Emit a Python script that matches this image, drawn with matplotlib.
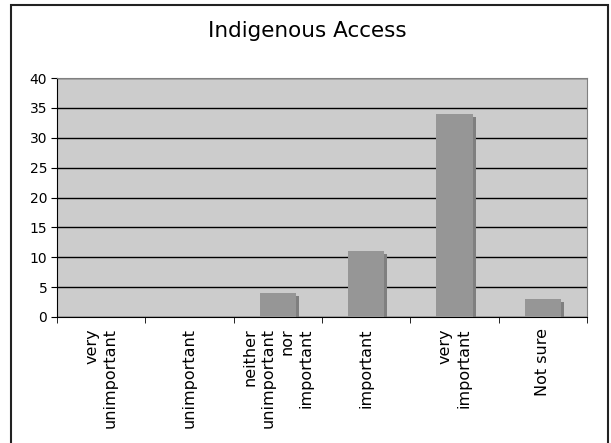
import matplotlib
matplotlib.use("Agg")
import matplotlib.pyplot as plt
from matplotlib.transforms import ScaledTranslation
from matplotlib.patches import Rectangle

plt.rcParams['font.family'] = ['DejaVu Sans']

title = "Indigenous Access"
categories = ["very\nunimportant", "unimportant", "neither\nunimportant\nnor\nimportant",
              "important", "very\nimportant", "Not sure"]
counts = [0, 0, 4, 11, 34, 3]
y_ticks = [0, 5, 10, 15, 20, 25, 30, 35, 40]

W, H = 611, 443
fig = plt.figure(figsize=(W / 100, H / 100), dpi=100)

# outer chart frame
fig.patches.append(Rectangle((11 / W, -0.01), (608 - 11) / W, 1 - 5 / H + 0.01,
                             transform=fig.transFigure, fill=False,
                             edgecolor="#222222", linewidth=1.5))

ax = fig.add_axes([57 / W, (H - 317) / H, (587 - 57) / W, (317 - 78) / H])
ax.set_facecolor("#cccccc")

x = list(range(1, len(categories) + 1))
bar_w = 0.41

# drop shadow behind each bar
shadow = ax.transData + ScaledTranslation(3 / 100, -3 / 100, fig.dpi_scale_trans)
ax.bar(x, counts, width=bar_w, color="#7f7f7f", transform=shadow, zorder=2)
ax.bar(x, counts, width=bar_w, color="#969696", zorder=3)

ax.set_xlim(0.5, len(categories) + 0.5)
ax.set_ylim(0, 40)
ax.set_yticks(y_ticks)
ax.yaxis.grid(True, color="black", linewidth=1)
ax.set_axisbelow(True)

ax.set_xticks(x)
ax.set_xticklabels(categories, rotation=90, ha="center", va="top",
                   multialignment="right", linespacing=1.32, fontsize=11.5)
ax.tick_params(axis="x", which="major", length=0, pad=8)
ax.set_xticks([i + 0.5 for i in range(len(categories) + 1)], minor=True)
ax.tick_params(axis="x", which="minor", length=4, color="black", direction="out")
ax.tick_params(axis="y", length=4, color="black", labelsize=10, pad=3)

for side in ("top", "right"):
    ax.spines[side].set_color("#808080")
for side in ("left", "bottom"):
    ax.spines[side].set_color("black")

fig.text(307 / W, 1 - 31 / H, title, ha="center", va="center", fontsize=15.5)

fig.savefig("out.png", dpi=100)
